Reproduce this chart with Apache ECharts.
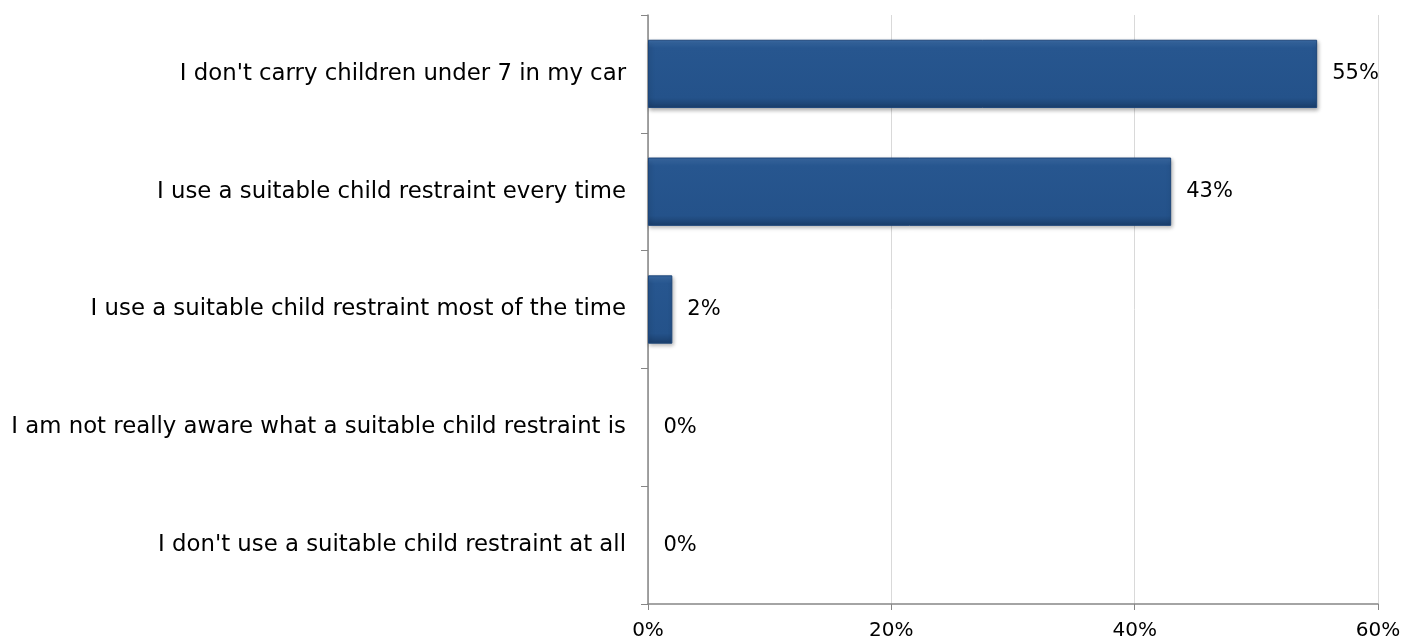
<!DOCTYPE html>
<html><head><meta charset="utf-8">
<script src="https://cdn.jsdelivr.net/npm/echarts@6/dist/echarts.min.js"></script>
<style>html,body{margin:0;padding:0;background:#fff}#c{width:1414px;height:641px}</style>
</head><body><div id="c"></div>
<script>
const categories = [
  "I don't use a suitable child restraint at all",
  "I am not really aware what a suitable child restraint is",
  "I use a suitable child restraint most of the time",
  "I use a suitable child restraint every time",
  "I don't carry children under 7 in my car"
];
const values = [0, 0, 2, 43, 55];
const xTicks = [0, 20, 40, 60];

const font = '"DejaVu Sans", sans-serif';
const chart = echarts.init(document.getElementById('c'));
chart.setOption({
  animation: false,
  grid: {left: 648, right: 36, top: 15, bottom: 37, containLabel: false},
  xAxis: {
    type: 'value', min: xTicks[0], max: xTicks[xTicks.length - 1], interval: xTicks[1] - xTicks[0],
    axisLine: {show: true, lineStyle: {color: '#868686', width: 1.5}},
    axisTick: {show: true, length: 6, lineStyle: {color: '#868686'}},
    splitLine: {show: true, lineStyle: {color: '#D9D9D9', width: 1}},
    axisLabel: {color: '#000', fontFamily: font, fontSize: 20, margin: 17,
      formatter: v => v + '%'}
  },
  yAxis: {
    type: 'category', data: categories,
    axisLine: {show: true, lineStyle: {color: '#868686', width: 1.5}},
    axisTick: {show: true, length: 7, lineStyle: {color: '#868686'}},
    axisLabel: {color: '#000', fontFamily: font, fontSize: 22.8, margin: 22}
  },
  series: [{
    type: 'bar',
    data: values.map(v => v === 0 ? {value: v, itemStyle: {opacity: 0}} : v),
    barWidth: '58%',
    itemStyle: {
      color: {type: 'linear', x: 0, y: 0, x2: 0, y2: 1, colorStops: [
        {offset: 0, color: '#3C6DA8'}, {offset: 0.12, color: '#27568F'},
        {offset: 0.85, color: '#24528A'}, {offset: 1, color: '#1A3E6B'}]},
      borderColor: '#1E467A', borderWidth: 1,
      shadowColor: 'rgba(0,0,0,0.3)', shadowBlur: 4, shadowOffsetX: 1, shadowOffsetY: 2
    },
    label: {show: true, position: 'right', distance: 15, color: '#000', opacity: 1,
      fontFamily: font, fontSize: 21, formatter: p => p.value + '%'}
  }]
});
</script></body></html>
